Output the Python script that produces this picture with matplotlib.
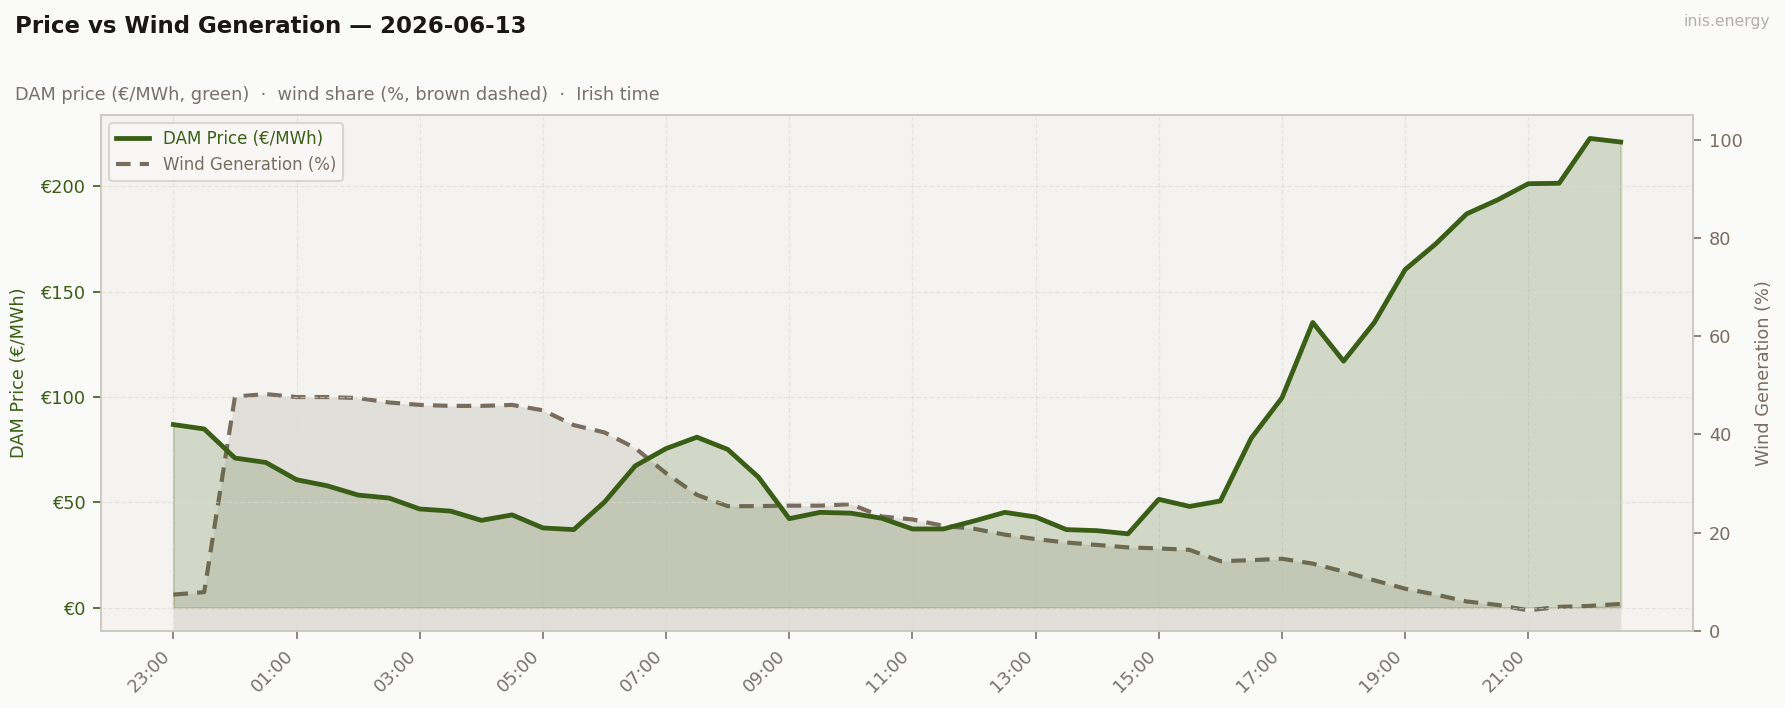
import matplotlib
matplotlib.use("Agg")
import matplotlib.pyplot as plt
import matplotlib.dates as mdates
import matplotlib.ticker as mticker
import pandas as pd

start_time = "2026-06-12 23:00"
n_points = 48
times = pd.date_range(start_time, periods=n_points, freq="30min")

price = [86.9, 84.8, 71.0, 68.9, 60.7, 57.8, 53.4, 52.0, 46.8, 45.8, 41.4, 44.0,
         37.8, 37.0, 50.1, 67.3, 75.5, 80.9, 75.1, 61.9, 42.2, 45.2, 44.8, 42.4,
         37.3, 37.3, 41.1, 45.2, 43.0, 37.0, 36.5, 35.0, 51.4, 48.0, 50.6, 80.4,
         99.6, 135.4, 117.0, 135.4, 160.5, 172.8, 187.0, 193.6, 201.3, 201.5, 222.8, 221.1]

wind = [7.4, 7.9, 47.7, 48.2, 47.6, 47.6, 47.4, 46.5, 46.0, 45.8, 45.8, 46.0,
        44.9, 41.9, 40.4, 37.2, 32.1, 27.7, 25.4, 25.4, 25.5, 25.5, 25.8, 23.3,
        22.7, 21.4, 20.8, 19.6, 18.7, 18.0, 17.5, 17.0, 16.8, 16.5, 14.2, 14.4,
        14.7, 13.7, 12.1, 10.3, 8.6, 7.4, 6.0, 5.3, 4.2, 4.9, 5.1, 5.5]

price_ticks = [0, 50, 100, 150, 200]
wind_ticks = [0, 20, 40, 60, 80, 100]

GREEN = "#3b5e17"
BROWN = "#7a6d60"
FIG_BG = "#fafaf8"
AX_BG = "#f4f3ef"
SPINE = "#cdc9c1"

fig = plt.figure(figsize=(11.9, 4.72), dpi=150, facecolor=FIG_BG)
ax2 = fig.add_axes([0.0566, 0.1088, 0.8919, 0.7288])
ax = ax2.twinx()
ax.yaxis.tick_left(); ax.yaxis.set_label_position("left")
ax2.yaxis.tick_right(); ax2.yaxis.set_label_position("right")
ax2.set_facecolor(AX_BG)
ax.patch.set_visible(False)

# wind (right axis)
ax2.fill_between(times, wind, 0, color=BROWN, alpha=0.15, linewidth=0)
lw, = ax2.plot(times, wind, color=BROWN, lw=2.0, ls=(0, (3.5, 2.2)), label="Wind Generation (%)")
ax2.set_ylim(0, 105)
ax2.set_yticks(wind_ticks)
ax2.tick_params(axis="y", colors=BROWN, labelsize=8.5, length=4)
ax2.set_ylabel("Wind Generation (%)", color=BROWN, fontsize=8.5, labelpad=6)

# price (left axis)
ax.fill_between(times, price, 0, color=GREEN, alpha=0.18, linewidth=1, edgecolor=(0.24, 0.37, 0.09, 0.15))
lp, = ax.plot(times, price, color=GREEN, lw=2.3, label="DAM Price (€/MWh)")
ax.set_yticks(price_ticks)
ax.yaxis.set_major_formatter(mticker.FuncFormatter(lambda v, p: f"€{v:.0f}"))
ax.tick_params(axis="y", colors=GREEN, labelsize=8.5, length=4)
ax.set_ylabel("DAM Price (€/MWh)", color=GREEN, fontsize=8.5, labelpad=6)
ax.grid(True, color="#dedbd4", ls="--", lw=0.6, alpha=0.6)

tick_times = times[::4]
ax.set_xticks(tick_times)
ax2.set_xticks(tick_times)
ax2.xaxis.set_major_formatter(mdates.DateFormatter("%H:%M"))
ax2.tick_params(axis="x", colors="#777370", labelsize=8.5, length=4)
ax2.grid(True, axis="x", color="#dedbd4", ls="--", lw=0.6, alpha=0.6)
for lbl in ax2.get_xticklabels():
    lbl.set_rotation(45); lbl.set_ha("right")
for a in (ax, ax2):
    for s in a.spines.values():
        s.set_color(SPINE)
ax.tick_params(axis="x", bottom=False, labelbottom=False)

leg = ax.legend(handles=[lp, lw], loc="upper left", fontsize=8, frameon=True,
                facecolor="#f9f8f6", edgecolor="#d6d3cc", framealpha=0.9)
leg.get_texts()[0].set_color(GREEN)
leg.get_texts()[1].set_color(BROWN)

fig.text(0.0084, 0.963, "Price vs Wind Generation — 2026-06-13", fontsize=11, fontweight="bold",
         color="#1a1714", va="center", ha="left")
fig.text(0.0084, 0.866, "DAM price (€/MWh, green)  ·  wind share (%, brown dashed)  ·  Irish time",
         fontsize=8.5, color="#77716b", va="center", ha="left")
fig.text(0.9915, 0.969, "inis.energy", fontsize=7.5, color="#b3afaa", va="center", ha="right")

fig.savefig("out.png", dpi=150, facecolor=FIG_BG)
